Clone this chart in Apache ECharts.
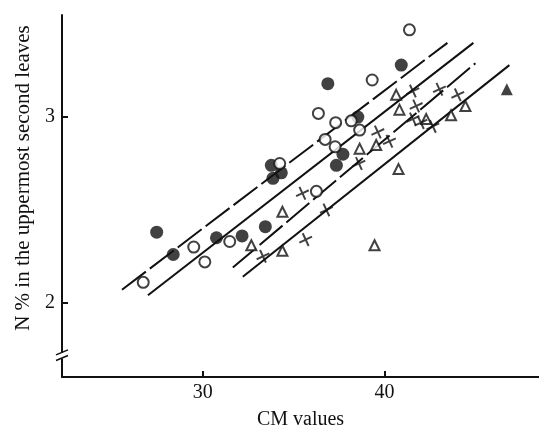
<!DOCTYPE html>
<html>
<head>
<meta charset="utf-8">
<script src="https://cdn.jsdelivr.net/npm/echarts@6.0.0/dist/echarts.min.js"></script>
<style>
  html, body { margin: 0; padding: 0; background: #fff; }
  #chart { width: 539px; height: 430px; }
</style>
</head>
<body>
<div id="chart"></div>
<script>
// tick values
const xTicks = [30, 40];
const yTicks = [2, 3];

// points: [CM value, N %]
const filledCircles = [
  [27.46, 2.38], [28.37, 2.26], [30.75, 2.35], [32.16, 2.36], [33.44, 2.41],
  [33.77, 2.74], [33.86, 2.67], [34.32, 2.70], [36.88, 3.18], [40.92, 3.28],
  [38.53, 3.00], [37.71, 2.80], [37.35, 2.74]
];
const openCircles = [
  [26.72, 2.11], [29.5, 2.30], [30.11, 2.22], [31.48, 2.33], [34.23, 2.75],
  [36.25, 2.60], [41.37, 3.47], [39.32, 3.20], [36.36, 3.02], [37.31, 2.97],
  [38.17, 2.98], [38.63, 2.93], [36.73, 2.88], [37.28, 2.84]
];
const openTriangles = [
  [34.38, 2.49], [32.67, 2.31], [34.38, 2.28], [40.77, 2.72], [39.45, 2.31],
  [40.64, 3.12], [40.82, 3.04], [38.63, 2.83], [39.54, 2.85], [42.29, 2.99],
  [43.66, 3.01], [44.45, 3.06]
];
const filledTriangles = [[46.73, 3.15]];
const crosses = [
  [33.31, 2.25], [35.48, 2.59], [35.66, 2.34], [36.80, 2.50], [38.59, 2.75],
  [39.63, 2.92], [40.27, 2.87], [41.56, 3.14], [41.74, 3.06], [41.56, 2.99],
  [42.0, 2.97], [42.66, 2.95], [43.02, 3.15], [44.03, 3.12]
];

// regression lines: start and end points
const line1 = [[25.55, 2.07], [43.46, 3.40]]; // dashed
const line2 = [[26.98, 2.04], [44.89, 3.40]]; // solid
const line3 = [[31.65, 2.19], [45.0, 3.29]];  // dashed
const line4 = [[32.2, 2.14], [46.87, 3.28]];  // solid

const ink = '#111';
const serif = 'Liberation Serif';
const crossPath = 'path://M4.3,0H5.7V4.3H10V5.7H5.7V10H4.3V5.7H0V4.3H4.3Z';

const chart = echarts.init(document.getElementById('chart'));

const lineSeries = (data, dashed) => ({
  type: 'line',
  data: data,
  symbol: 'none',
  z: 1,
  lineStyle: { color: ink, width: 2, type: dashed ? [30, 5] : 'solid' },
  animation: false
});

const option = {
  backgroundColor: '#fff',
  animation: false,
  grid: { left: 62, right: 0, top: 15, bottom: 53, outerBoundsMode: 'none', containLabel: false },
  xAxis: {
    type: 'value', min: 22.25, max: 48.5,
    name: 'CM values', nameLocation: 'middle', nameGap: 33,
    nameTextStyle: { color: ink, fontFamily: serif, fontSize: 20, verticalAlign: 'top' },
    axisLine: { lineStyle: { color: ink, width: 2 } },
    axisTick: { inside: true, length: 6, customValues: xTicks, lineStyle: { color: ink, width: 2 } },
    axisLabel: { customValues: xTicks, color: ink, fontFamily: serif, fontSize: 20, margin: 6 },
    splitLine: { show: false }
  },
  yAxis: {
    type: 'value', min: 1.6, max: 3.55,
    axisLine: { lineStyle: { color: ink, width: 2 } },
    axisTick: { inside: true, length: 6, customValues: yTicks, lineStyle: { color: ink, width: 2 } },
    axisLabel: { customValues: yTicks, color: ink, fontFamily: serif, fontSize: 20, margin: 7 },
    splitLine: { show: false }
  },
  series: [
    lineSeries(line1, true),
    lineSeries(line2, false),
    lineSeries(line3, true),
    lineSeries(line4, false),
    {
      type: 'scatter', data: filledCircles, symbol: 'circle', symbolSize: 13, z: 3,
      itemStyle: { color: ink }
    },
    {
      type: 'scatter', data: openCircles, symbol: 'circle', symbolSize: 11, z: 4,
      itemStyle: { color: '#fff', borderColor: ink, borderWidth: 2 }
    },
    {
      type: 'scatter', data: openTriangles, symbol: 'triangle', symbolSize: 10, z: 3,
      itemStyle: { color: '#fff', borderColor: ink, borderWidth: 2 }
    },
    {
      type: 'scatter', data: filledTriangles, symbol: 'triangle', symbolSize: 12, z: 3,
      itemStyle: { color: ink }
    },
    {
      type: 'scatter', data: crosses, symbol: crossPath, symbolSize: 14, symbolRotate: 25, z: 3,
      itemStyle: { color: ink }
    }
  ]
};

chart.setOption(option);

// y axis title and axis-break marks
const ax = chart.convertToPixel({ xAxisIndex: 0 }, 22.25);
const b1 = chart.convertToPixel({ yAxisIndex: 0 }, 1.73);
const b2 = chart.convertToPixel({ yAxisIndex: 0 }, 1.70);
chart.setOption({
  graphic: [
    {
      type: 'text', x: 23, y: 178, rotation: Math.PI / 2,
      style: {
        text: 'N % in the uppermost second leaves', fill: ink,
        font: '21px "' + serif + '"', align: 'center', verticalAlign: 'middle'
      }
    },
    { type: 'rect', shape: { x: ax - 3, y: b1, width: 6, height: b2 - b1 }, style: { fill: '#fff' }, z: 100 },
    { type: 'line', shape: { x1: ax - 6, y1: b1 + 2, x2: ax + 6, y2: b1 - 3 }, style: { stroke: ink, lineWidth: 1.6 }, z: 101 },
    { type: 'line', shape: { x1: ax - 6, y1: b2 + 2, x2: ax + 6, y2: b2 - 3 }, style: { stroke: ink, lineWidth: 1.6 }, z: 101 }
  ]
});

window.addEventListener('resize', () => chart.resize());
</script>
</body>
</html>
